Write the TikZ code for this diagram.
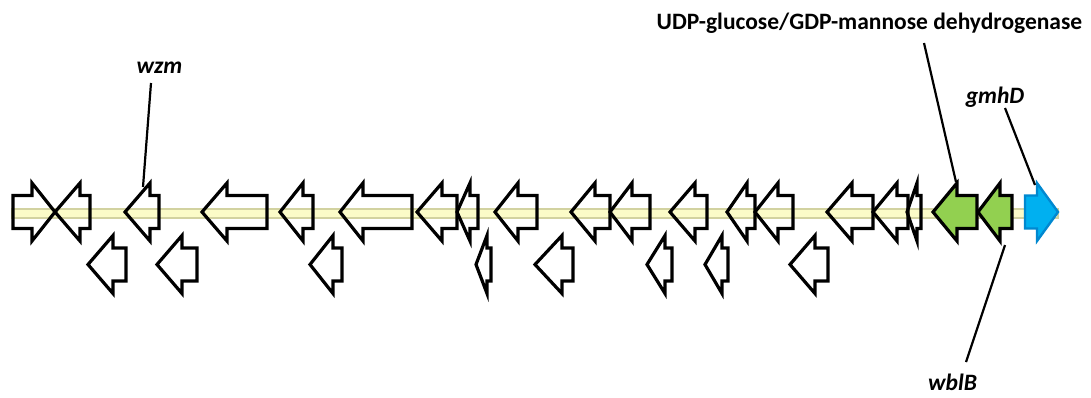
\documentclass[tikz,border=0pt]{standalone}
\usepackage{fontspec}
\setmainfont{Carlito}
\definecolor{bandfill}{HTML}{FBFBC8}
\definecolor{banddraw}{HTML}{D2D2A0}
\definecolor{genegreen}{HTML}{92D050}
\definecolor{geneblue}{HTML}{00B0F0}
\definecolor{geneblueline}{HTML}{0088D0}
\tikzset{
  gene/.style={draw=black, line width=3.2pt, line join=miter},
  greengene/.style={gene, fill=genegreen},
  bluegene/.style={draw=geneblueline, fill=geneblue, line width=2.4pt, line join=miter},
  band/.style={fill=bandfill, draw=banddraw, line width=1.2pt},
  lbl/.style={inner sep=0pt, font=\fontsize{23.5}{28}\selectfont\bfseries},
  pointer/.style={draw=black, line width=2.2pt},
}
% left-pointing gene: name, tip x, head base x, tail x, centre y, style
\newcommand\lgene[6]{%
  \draw[#6] (#2,#5) coordinate (#1-tip) -- (#3,#5-29) coordinate (#1-top)
    -- (#3,#5-16.5) -- (#4,#5-16.5) -- (#4,#5+16.5) -- (#3,#5+16.5)
    -- (#3,#5+29) coordinate (#1-bot) -- cycle;}
% right-pointing gene: name, tail x, head base x, tip x, centre y, style
\newcommand\rgene[6]{%
  \draw[#6] (#4,#5) coordinate (#1-tip) -- (#3,#5-29) coordinate (#1-top)
    -- (#3,#5-16.5) -- (#2,#5-16.5) -- (#2,#5+16.5) -- (#3,#5+16.5)
    -- (#3,#5+29) coordinate (#1-bot) -- cycle;}
\begin{document}
\begin{tikzpicture}[x=1pt, y=-1pt]
\useasboundingbox (0,0) rectangle (1091,397);

% chromosome backbone
\draw[band] (12,209) rectangle (1058,218);

% upper row of genes
\rgene{g1}{13}{32}{55}{212}{gene}
\lgene{g2}{55}{80}{90}{212}{gene}
\lgene{wzm}{125}{150}{159}{212}{gene}
\lgene{g4}{202}{227}{267}{212}{gene}
\lgene{g5}{280}{303}{313}{212}{gene}
\lgene{g6}{340}{363}{412}{212}{gene}
\lgene{g7}{417}{442}{457}{212}{gene}
\lgene{g8}{457}{470}{478}{212}{gene}
\lgene{g9}{495}{518}{537}{212}{gene}
\lgene{g10}{571}{595}{610}{212}{gene}
\lgene{g11}{610}{632}{650}{212}{gene}
\lgene{g12}{670}{695}{707}{212}{gene}
\lgene{g13}{727}{747}{755}{212}{gene}
\lgene{g14}{755}{778}{793}{212}{gene}
\lgene{g15}{827}{852}{873}{212}{gene}
\lgene{g16}{873}{897}{908}{212}{gene}
\lgene{g17}{907}{917}{921}{212}{gene}
\lgene{udp}{933}{957}{977}{212}{greengene}
\lgene{wblB}{978}{1000}{1012}{212}{greengene}
\rgene{gmhD}{1025}{1037}{1058}{212}{bluegene}

% lower row of genes
\lgene{m1}{88}{113}{126}{264.5}{gene}
\lgene{m2}{157}{182}{197}{264.5}{gene}
\lgene{m3}{310}{333}{342}{264.5}{gene}
\lgene{m4}{476}{487}{491}{264.5}{gene}
\lgene{m5}{535}{562}{573}{264.5}{gene}
\lgene{m6}{647}{665}{672}{264.5}{gene}
\lgene{m7}{705}{722}{728}{264.5}{gene}
\lgene{m8}{790}{815}{828}{264.5}{gene}

% labels
\node[lbl, anchor=base] (wzmlbl) at (159.5,73) {\itshape wzm};
\node[lbl, anchor=base] (udplbl) at (869.5,29) {UDP-glucose/GDP-mannose dehydrogenase};
\node[lbl, anchor=base] (gmhDlbl) at (995,103) {\itshape gmhD};
\node[lbl, anchor=base] (wblBlbl) at (952.5,390) {\itshape wblB};

% pointer lines
\coordinate (wzm-a) at (151,83);
\coordinate (wzm-b) at (143,187);
\coordinate (udp-a) at (924,43);
\coordinate (udp-b) at (956,182);
\coordinate (gmhD-a) at (1005,108);
\coordinate (gmhD-b) at (1035,185);
\coordinate (wblB-a) at (1005,245);
\coordinate (wblB-b) at (966,362);
\draw[pointer] (wzm-a) -- (wzm-b);
\draw[pointer] (udp-a) -- (udp-b);
\draw[pointer] (gmhD-a) -- (gmhD-b);
\draw[pointer] (wblB-a) -- (wblB-b);
\end{tikzpicture}
\end{document}
